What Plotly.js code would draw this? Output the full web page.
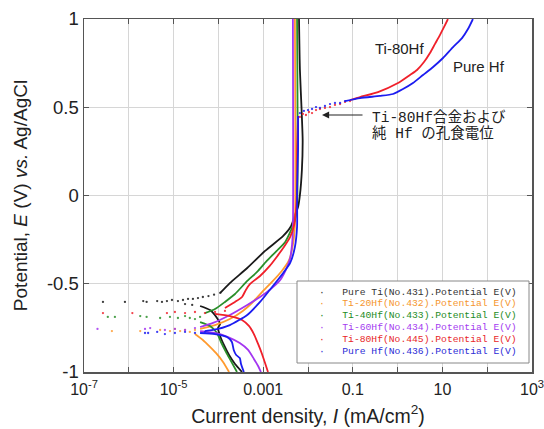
<!DOCTYPE html>
<html>
<head>
<meta charset="utf-8">
<script src="https://cdn.plot.ly/plotly-3.0.1.min.js"></script>
<style>html,body{margin:0;padding:0;background:#fff;}#chart{width:544px;height:429px;}</style>
</head>
<body>
<div id="chart"></div>
<script>
// ---------- series labels & colours ----------
const seriesNames = [
  'Pure Ti(No.431).Potential E(V)',
  'Ti-20Hf(No.432).Potential E(V)',
  'Ti-40Hf(No.433).Potential E(V)',
  'Ti-60Hf(No.434).Potential E(V)',
  'Ti-80Hf(No.445).Potential E(V)',
  'Pure Hf(No.436).Potential E(V)'
];
const lineColors = ['#1a1a1a', '#ff9a2e', '#2a8f2a', '#a335f0', '#f0202a', '#1c1cf0'];
const legendColors = ['#333333', '#f5962e', '#1e8c1e', '#a43cf0', '#e8262a', '#2b2bd6'];

// ---------- tick labels ----------
const xTickVals = [1e-7, 1e-5, 1e-3, 1e-1, 10, 1000];
const xTickText = ['10<sup>-7</sup>', '10<sup>-5</sup>', '0.001', '0.1', '10', '10<sup>3</sup>'];
const yTickVals = [-1, -0.5, 0, 0.5, 1];
const yTickText = ['-1', '-0.5', '0', '0.5', '1'];

// ---------- Pure Ti ----------
const tiCathI = [3.9e-5, 6.5e-5, 9.3e-5, 1.09e-4, 9.8e-5, 1.09e-4, 1.33e-4, 1.73e-4, 2.35e-4, 3.37e-4];
const tiCathE = [-0.626, -0.649, -0.694, -0.728, -0.751, -0.796, -0.847, -0.904, -0.955, -1.0];
const tiDotI = [2.65e-7, 8.2e-7, 2.1e-6, 2.5e-6, 4.3e-6, 5.5e-6, 7.1e-6, 9.2e-6, 1.25e-5, 1.62e-5, 2.1e-5, 2.7e-5, 3.5e-5, 4.5e-5, 6.0e-5, 8.0e-5, 1.1e-4, 1.8e-5, 2.6e-5];
const tiDotE = [-0.603, -0.603, -0.598, -0.603, -0.598, -0.603, -0.598, -0.592, -0.598, -0.592, -0.586, -0.586, -0.581, -0.575, -0.570, -0.562, -0.552, -0.615, -0.620];
const tiAnodI = [1.1e-4, 1.8e-4, 4.4e-4, 1.1e-3, 2.8e-3, 4.2e-3, 5.1e-3, 6.0e-3, 6.6e-3, 7.3e-3, 7.6e-3, 7.2e-3, 6.6e-3, 6.3e-3];
const tiAnodE = [-0.552, -0.496, -0.411, -0.314, -0.229, -0.173, -0.110, -0.065, 0.003, 0.144, 0.314, 0.484, 0.711, 1.0];

// ---------- Ti-20Hf ----------
const hf20CathI = [3.0e-5, 4.5e-5, 6.5e-5, 8.8e-5, 1.27e-4, 1.73e-4];
const hf20CathE = [-0.785, -0.819, -0.858, -0.892, -0.943, -1.0];
const hf20DotI = [4.2e-7, 1.8e-6, 5.0e-6, 8.3e-6, 1.07e-5, 1.4e-5, 1.8e-5, 2.3e-5, 3.0e-5];
const hf20DotE = [-0.768, -0.768, -0.762, -0.768, -0.756, -0.768, -0.762, -0.773, -0.762];
const hf20AnodI = [3.9e-5, 8.4e-5, 1.8e-4, 3.5e-4, 5.6e-4, 9.4e-4, 1.57e-3, 2.6e-3, 3.8e-3, 4.6e-3, 5.1e-3, 5.1e-3];
const hf20AnodE = [-0.756, -0.734, -0.700, -0.654, -0.609, -0.547, -0.490, -0.428, -0.365, -0.280, -0.167, 1.0];

// ---------- Ti-40Hf ----------
const hf40CathI = [3.9e-5, 6.5e-5, 9.3e-5, 1.14e-4, 1.48e-4, 1.91e-4, 2.6e-4];
const hf40CathE = [-0.717, -0.739, -0.779, -0.830, -0.887, -0.938, -1.0];
const hf40DotI = [3.4e-7, 4.9e-7, 1.8e-6, 2.5e-6, 5.0e-6, 8.3e-6, 1.25e-5, 1.8e-5, 2.3e-5, 3.0e-5, 3.9e-5];
const hf40DotE = [-0.688, -0.688, -0.683, -0.688, -0.694, -0.688, -0.694, -0.683, -0.694, -0.700, -0.688];
const hf40AnodI = [5.0e-5, 8.4e-5, 1.4e-4, 2.35e-4, 4.4e-4, 7.3e-4, 1.2e-3, 2.0e-3, 3.1e-3, 4.2e-3, 5.1e-3, 5.7e-3, 5.7e-3];
const hf40AnodE = [-0.666, -0.643, -0.603, -0.558, -0.484, -0.433, -0.371, -0.314, -0.263, -0.195, -0.139, -0.054, 1.0];

// ---------- Ti-60Hf ----------
const hf60CathI = [3.9e-5, 8.4e-5, 1.64e-4, 3.0e-4, 4.6e-4, 6.2e-4, 7.7e-4, 8.9e-4];
const hf60CathE = [-0.768, -0.779, -0.802, -0.836, -0.875, -0.926, -0.966, -1.0];
const hf60DotI = [2.0e-7, 2.3e-6, 3.0e-6, 6.4e-6, 1.07e-5, 1.8e-5, 3.0e-5];
const hf60DotE = [-0.756, -0.756, -0.751, -0.762, -0.756, -0.762, -0.751];
const hf60AnodI = [3.9e-5, 7.6e-5, 1.8e-4, 4.4e-4, 8.5e-4, 1.4e-3, 2.4e-3, 3.2e-3, 4.0e-3, 4.4e-3, 4.6e-3, 4.6e-3];
const hf60AnodE = [-0.745, -0.722, -0.677, -0.620, -0.575, -0.535, -0.479, -0.422, -0.354, -0.280, -0.195, 1.0];

// ---------- Ti-80Hf ----------
const hf80CathI = [8.4e-5, 1.8e-4, 3.37e-4, 4.8e-4, 6.2e-4, 7.7e-4, 9.4e-4, 1.1e-3, 1.28e-3];
const hf80CathE = [-0.671, -0.683, -0.705, -0.739, -0.785, -0.841, -0.898, -0.949, -1.0];
const hf80DotI = [2.65e-7, 1.2e-6, 7.1e-6, 1.07e-5, 1.8e-5, 3.0e-5, 5.0e-5, 8.4e-5, 1.4e-4];
const hf80DotE = [-0.666, -0.666, -0.666, -0.660, -0.666, -0.660, -0.666, -0.660, -0.654];
const hf80AnodI = [1.4e-4, 2.35e-4, 3.37e-4, 4.1e-4, 5.1e-4, 8.5e-4, 1.4e-3, 2.0e-3, 2.9e-3, 4.0e-3, 4.9e-3, 5.4e-3, 5.7e-3, 5.7e-3, 6.0e-3];
const hf80AnodE = [-0.637, -0.603, -0.575, -0.535, -0.501, -0.456, -0.399, -0.348, -0.292, -0.235, -0.167, -0.082, 0.031, 0.258, 0.450];
const hf80PitI = [6.6e-3, 7.7e-3, 9.0e-3, 0.0105, 0.0123, 0.0151, 0.0185, 0.0239, 0.031, 0.040, 0.052, 0.067, 0.0866];
const hf80PitE = [0.445, 0.462, 0.456, 0.473, 0.467, 0.484, 0.490, 0.496, 0.501, 0.513, 0.518, 0.530, 0.535];
const hf80TransI = [0.0866, 0.145, 0.365, 1.02, 1.89, 2.71, 3.88, 5.28, 6.8, 8.8, 10.9, 13.3];
const hf80TransE = [0.541, 0.558, 0.586, 0.637, 0.683, 0.711, 0.756, 0.807, 0.858, 0.909, 0.955, 1.0];

// ---------- Pure Hf ----------
const hfCathI = [3.9e-5, 8.4e-5, 1.56e-4, 2.0e-4, 2.2e-4, 2.5e-4, 3.0e-4, 3.2e-4, 3.7e-4];
const hfCathE = [-0.779, -0.785, -0.802, -0.830, -0.875, -0.904, -0.921, -0.955, -1.0];
const hfDotI = [2.3e-6, 2.7e-6, 4.3e-6, 6.4e-6, 1.07e-5, 1.8e-5, 3.0e-5, 5.0e-5];
const hfDotE = [-0.779, -0.779, -0.773, -0.785, -0.779, -0.773, -0.779, -0.773];
const hfAnodI = [5.0e-5, 7.6e-5, 1.8e-4, 4.4e-4, 8.5e-4, 1.4e-3, 2.8e-3, 4.0e-3, 5.1e-3, 5.7e-3, 5.7e-3, 6.0e-3, 6.0e-3];
const hfAnodE = [-0.768, -0.762, -0.734, -0.677, -0.603, -0.535, -0.439, -0.382, -0.292, -0.178, 0.031, 0.258, 0.450];
const hfPitI = [6.6e-3, 8.1e-3, 0.010, 0.0123, 0.0151, 0.0185, 0.0239, 0.031, 0.040, 0.052, 0.067];
const hfPitE = [0.467, 0.479, 0.484, 0.490, 0.501, 0.496, 0.507, 0.518, 0.524, 0.524, 0.535];
const hfTransI = [0.067, 0.145, 0.40, 0.79, 1.32, 2.2, 3.69, 6.2, 10.3, 17.3, 27.4, 37.2, 48];
const hfTransE = [0.535, 0.552, 0.564, 0.575, 0.603, 0.637, 0.683, 0.728, 0.779, 0.841, 0.892, 0.943, 1.0];

// ---------- build traces ----------
const groups = [
  {lines: [[tiCathI, tiCathE], [tiAnodI, tiAnodE]], dots: [[tiDotI, tiDotE]]},
  {lines: [[hf20CathI, hf20CathE], [hf20AnodI, hf20AnodE]], dots: [[hf20DotI, hf20DotE]]},
  {lines: [[hf40CathI, hf40CathE], [hf40AnodI, hf40AnodE]], dots: [[hf40DotI, hf40DotE]]},
  {lines: [[hf60CathI, hf60CathE], [hf60AnodI, hf60AnodE]], dots: [[hf60DotI, hf60DotE]]},
  {lines: [[hf80CathI, hf80CathE], [hf80AnodI, hf80AnodE], [hf80TransI, hf80TransE]], dots: [[hf80DotI, hf80DotE], [hf80PitI, hf80PitE]]},
  {lines: [[hfCathI, hfCathE], [hfAnodI, hfAnodE], [hfTransI, hfTransE]], dots: [[hfDotI, hfDotE], [hfPitI, hfPitE]]}
];

const traces = [];
groups.forEach((g, k) => {
  g.lines.forEach(([xs, ys]) => {
    traces.push({
      x: xs, y: ys, type: 'scatter', mode: 'lines', name: seriesNames[k],
      legendgroup: 'g' + k, showlegend: false, hoverinfo: 'skip',
      line: {color: lineColors[k], width: 1.8, shape: 'spline', smoothing: 0.6}
    });
  });
  g.dots.forEach(([xs, ys]) => {
    traces.push({
      x: xs, y: ys, type: 'scatter', mode: 'markers', name: seriesNames[k],
      legendgroup: 'g' + k, showlegend: false, hoverinfo: 'skip',
      marker: {color: lineColors[k], size: 2.3, symbol: 'circle', opacity: 0.85}
    });
  });
});

// ---------- layout helpers (pixel -> paper) ----------
const W = 544, H = 429, mL = 84, mR = 12, mT = 19, mB = 57;
const pw = W - mL - mR, ph = H - mT - mB;
const px = v => (v - mL) / pw;
const py = v => (H - mB - v) / ph;

const annotations = [
  {xref: 'paper', yref: 'paper', x: px(399), y: py(49), xanchor: 'center', yanchor: 'middle', text: 'Ti-80Hf', showarrow: false,
   font: {family: 'Liberation Sans, Arial, sans-serif', size: 15, color: '#222'}},
  {xref: 'paper', yref: 'paper', x: px(479), y: py(67), xanchor: 'center', yanchor: 'middle', text: 'Pure Hf', showarrow: false,
   font: {family: 'Liberation Sans, Arial, sans-serif', size: 15, color: '#222'}},
  {xref: 'paper', yref: 'paper', x: px(370), y: py(117), xanchor: 'left', yanchor: 'middle', text: 'Ti-80Hf合金および', showarrow: false,
   font: {family: 'Liberation Mono, Noto Sans CJK JP, monospace', size: 14.5, color: '#222'}},
  {xref: 'paper', yref: 'paper', x: px(370), y: py(133), xanchor: 'left', yanchor: 'middle', text: '純 Hf の孔食電位', showarrow: false,
   font: {family: 'Liberation Mono, Noto Sans CJK JP, monospace', size: 14.5, color: '#222'}},
  {xref: 'paper', yref: 'paper', x: px(322), y: py(115), ax: 42, ay: 0, text: '', showarrow: true,
   arrowhead: 2, arrowsize: 1.3, arrowwidth: 1.1, arrowcolor: '#222'}
];

seriesNames.forEach((nm, k) => {
  annotations.push({
    xref: 'paper', yref: 'paper', x: px(317), y: py(292 + k * 11.8), xanchor: 'left', yanchor: 'middle',
    text: '<span style="color:' + legendColors[k] + '">·\u00a0\u00a0\u00a0' + nm + '</span>',
    showarrow: false, font: {family: 'Liberation Mono, DejaVu Sans Mono, monospace', size: 9.7, color: legendColors[k]}
  });
});

const axisCommon = {
  showline: true, linecolor: '#555', linewidth: 1.5, mirror: 'ticks',
  ticks: 'inside', ticklen: 5, tickcolor: '#555', tickwidth: 1,
  showgrid: true, gridcolor: '#d6d6d6', gridwidth: 1, zeroline: false,
  ticklabeloverflow: 'allow'
};

const layout = {
  width: W, height: H,
  margin: {l: mL, r: mR, t: mT, b: mB},
  paper_bgcolor: '#fff', plot_bgcolor: '#fff',
  showlegend: false,
  xaxis: Object.assign({}, axisCommon, {
    type: 'log', range: [-7, 3], tickmode: 'array', tickvals: xTickVals, ticktext: xTickText,
    ticklabelstandoff: 2,
    minor: {dtick: 1, ticks: 'inside', ticklen: 5, tickcolor: '#555', showgrid: true, gridcolor: '#d6d6d6', gridwidth: 1},
    tickfont: {family: 'Liberation Sans, Arial, sans-serif', size: 16, color: '#222'},
    title: {text: 'Current density, <i>I</i> (mA/cm<sup>2</sup>)', standoff: 12,
            font: {family: 'Liberation Sans, Arial, sans-serif', size: 19.5, color: '#222'}}
  }),
  yaxis: Object.assign({}, axisCommon, {
    range: [-1, 1], tickmode: 'array', tickvals: yTickVals, ticktext: yTickText,
    tickfont: {family: 'Liberation Sans, Arial, sans-serif', size: 18.5, color: '#222'},
    title: {text: 'Potential, <i>E</i> (V) <i>vs.</i> Ag/AgCl', standoff: 14,
            font: {family: 'Liberation Sans, Arial, sans-serif', size: 19, color: '#222'}}
  }),
  shapes: [
    {type: 'rect', xref: 'paper', yref: 'paper', x0: px(297), x1: px(529), y0: py(363), y1: py(281),
     line: {color: '#888', width: 1}, fillcolor: '#fff', layer: 'above'}
  ],
  annotations: annotations
};

Plotly.newPlot('chart', traces, layout, {staticPlot: true, displayModeBar: false});
</script>
</body>
</html>
